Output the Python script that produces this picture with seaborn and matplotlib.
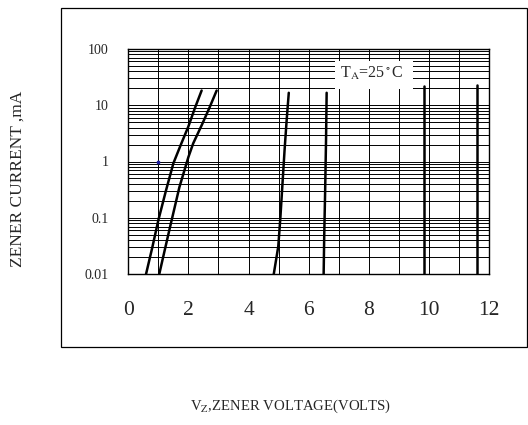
import matplotlib
matplotlib.use("Agg")
import matplotlib.pyplot as plt
import matplotlib.ticker as mticker
from matplotlib.patches import Rectangle
import pandas as pd
import seaborn as sns

# zener I-V curves
curve_ids = ["c1", "c2", "c3", "c4", "c5", "c6"]
volts = [
    [0.59, 0.80, 1.00, 1.25, 1.50, 1.75, 2.00, 2.22, 2.44],
    [1.03, 1.20, 1.39, 1.70, 2.00, 2.16, 2.45, 2.70, 2.94],
    [4.84, 4.99, 5.06, 5.13, 5.20, 5.27, 5.34],
    [6.50, 6.52, 6.55, 6.58, 6.60],
    [9.83, 9.83],
    [11.60, 11.60],
]
current_ma = [
    [0.01, 0.03, 0.091, 0.30, 0.93, 2.0, 4.2, 9.0, 18.2],
    [0.01, 0.025, 0.069, 0.35, 1.2, 2.1, 4.5, 9.0, 18.2],
    [0.01, 0.031, 0.10, 0.40, 1.6, 5.5, 16.6],
    [0.01, 0.05, 0.3, 2.5, 16.6],
    [0.0095, 21.7],
    [0.01, 22.9],
]
x_ticks = [0, 2, 4, 6, 8, 10, 12]
y_ticks = [0.01, 0.1, 1, 10, 100]
y_labels = ["0.01", "0.1", "1", "10", "100"]

rows = []
for cid, vs, cs in zip(curve_ids, volts, current_ma):
    for v, c in zip(vs, cs):
        rows.append({"curve": cid, "V": v, "I": c})
df = pd.DataFrame(rows)

sns.set_style("white")
plt.rcParams["font.family"] = ["Liberation Serif", "DejaVu Serif"]
plt.rcParams["mathtext.fontset"] = "stix"

fig = plt.figure(figsize=(5.28, 4.25), dpi=100)
ax = fig.add_axes([0.243, 0.355, 0.683, 0.530])

# outer frame around the chart
fig.patches.append(Rectangle((0.1155, 0.1835), 0.882, 0.7975, transform=fig.transFigure,
                             fill=False, edgecolor="black", linewidth=0.9))

sns.lineplot(data=df, x="V", y="I", units="curve", estimator=None, sort=False,
             color="black", linewidth=1.8, ax=ax, legend=False, zorder=3)
ax.scatter([1.0], [1.0], s=3, color="#1a1aa0", zorder=4)

ax.set_yscale("log")
ax.set_xlim(0, 12)
ax.set_ylim(0.01, 100)
ax.xaxis.set_major_locator(mticker.FixedLocator(x_ticks))
ax.xaxis.set_minor_locator(mticker.MultipleLocator(1))
ax.yaxis.set_major_locator(mticker.FixedLocator(y_ticks))
ax.yaxis.set_minor_locator(mticker.LogLocator(base=10, subs=range(2, 10)))
ax.yaxis.set_minor_formatter(mticker.NullFormatter())
ax.set_xticklabels([str(t) for t in x_ticks])
ax.set_yticklabels(y_labels)
ax.tick_params(axis="x", which="both", length=0, pad=19, labelsize=15.5)
ax.tick_params(axis="y", which="both", length=0, pad=14, labelsize=10)
ax.grid(True, which="both", color="black", linewidth=0.7)
for s in ax.spines.values():
    s.set_color("black")
    s.set_linewidth(1.0)

ax.add_patch(Rectangle((6.88, 19.5), 2.59, 42.2, facecolor="white", edgecolor="none", zorder=2.5))
ax.text(7.05, 37, r"T$_\mathrm{A}$=25$^\circ$C", fontsize=11.5, va="center", ha="left", zorder=3)

ax.set_xlabel("")
ax.set_ylabel("")
fig.text(0.551, 0.045, r"V$_\mathrm{Z}$,ZENER VOLTAGE(VOLTS)", ha="center", va="center", fontsize=10.6)
fig.text(0.034, 0.579, "ZENER CURRENT ,mA", rotation=90, ha="center", va="center", fontsize=12.5)

fig.savefig("out.png", dpi=100)
